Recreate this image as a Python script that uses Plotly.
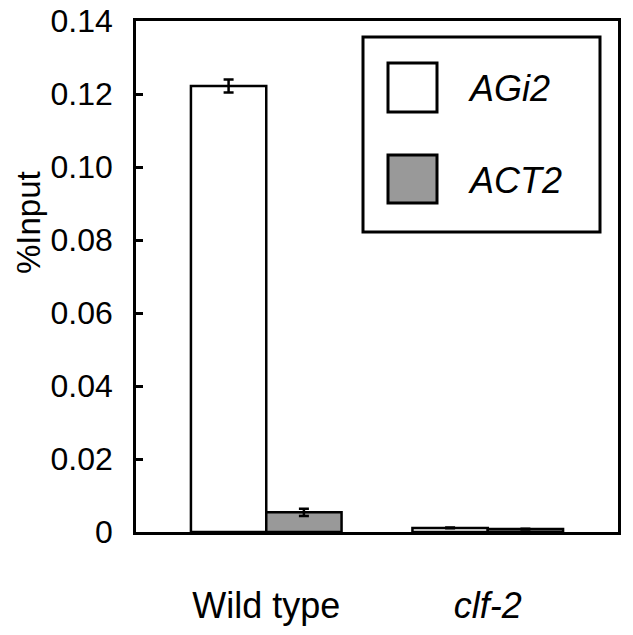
import plotly.graph_objects as go

# values
groups = ["Wild type", "<i>clf-2</i>"]
agi2 = [0.1222, 0.0011]
agi2_err = [0.0018, 0.0001]
act2 = [0.0054, 0.0008]
act2_err = [0.0010, 0.0001]
series_names = ["AGi2", "ACT2"]
y_ticks = [0, 0.02, 0.04, 0.06, 0.08, 0.10, 0.12, 0.14]
y_tick_text = ["0", "0.02", "0.04", "0.06", "0.08", "0.10", "0.12", "0.14"]

font_family = "Liberation Sans, Arial, Helvetica, sans-serif"
gray = "#999999"

fig = go.Figure()
fig.add_trace(go.Bar(x=groups, y=agi2, name=series_names[0],
                     marker=dict(color="white", line=dict(color="black", width=2.5)),
                     error_y=dict(type="data", array=agi2_err, color="black",
                                  thickness=2.5, width=5)))
fig.add_trace(go.Bar(x=groups, y=act2, name=series_names[1],
                     marker=dict(color=gray, line=dict(color="black", width=2.5)),
                     error_y=dict(type="data", array=act2_err, color="black",
                                  thickness=2.5, width=5)))

# the page body adds an 8px offset to the figure
OFF = 8
W, H = 633, 635
# plot area in window pixels: x 136..618, y 21..532
L, R, T, B = 136, 618, 21, 532
def px(x):
    return (x - L) / (R - L)
def py(y):
    return (B - y) / (B - T)

shapes = [
    # legend box
    dict(type="rect", xref="paper", yref="paper", x0=px(363), x1=px(600),
         y0=py(232), y1=py(37), line=dict(color="black", width=3), fillcolor="white"),
    dict(type="rect", xref="paper", yref="paper", x0=px(388), x1=px(437),
         y0=py(112), y1=py(63), line=dict(color="black", width=3), fillcolor="white"),
    dict(type="rect", xref="paper", yref="paper", x0=px(388), x1=px(437),
         y0=py(203), y1=py(155), line=dict(color="black", width=3), fillcolor=gray),
]
annotations = [
    dict(xref="paper", yref="paper", x=px(466), y=py(88), xanchor="left", yanchor="middle",
         text="<i>" + series_names[0] + "</i>", showarrow=False,
         font=dict(size=36, color="black", family=font_family)),
    dict(xref="paper", yref="paper", x=px(466), y=py(180), xanchor="left", yanchor="middle",
         text="<i>" + series_names[1] + "</i>", showarrow=False,
         font=dict(size=36, color="black", family=font_family)),
    dict(xref="paper", yref="paper", x=px(28), y=py(223), xanchor="center", yanchor="middle",
         text="%Input", textangle=-90, showarrow=False,
         font=dict(size=33, color="black", family=font_family)),
]

fig.update_layout(
    width=W, height=H,
    margin=dict(l=L - OFF, r=W + OFF - R, t=T - OFF, b=H + OFF - B),
    paper_bgcolor="white", plot_bgcolor="white",
    barmode="group", bargap=0.32, bargroupgap=0,
    showlegend=False,
    font=dict(family=font_family, color="black", size=32),
    shapes=shapes, annotations=annotations,
)
fig.update_xaxes(range=[-0.588, 1.588], showline=True, mirror=True, linecolor="black",
                 linewidth=2.5, ticks="", showgrid=False, automargin=False,
                 tickfont=dict(size=36), ticklabelstandoff=40)
fig.update_yaxes(range=[0, 0.14], tickvals=y_ticks, ticktext=y_tick_text,
                 showline=True, mirror=True, linecolor="black", linewidth=2.5,
                 ticks="inside", ticklen=7, tickwidth=2.5, tickcolor="black",
                 showgrid=False, zeroline=False, tickfont=dict(size=32),
                 ticklabelstandoff=14, automargin=False, ticklabeloverflow="allow")

fig.write_html("out.html")
